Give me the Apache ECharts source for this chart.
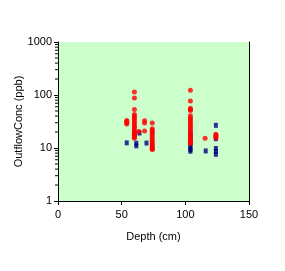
<!DOCTYPE html>
<html>
<head>
<meta charset="utf-8">
<script src="https://cdn.jsdelivr.net/npm/echarts@6/dist/echarts.min.js"></script>
<style>html,body{margin:0;padding:0;background:#fff;}#c{width:285px;height:271px;}</style>
</head>
<body>
<div id="c"></div>
<script>
// Red series (depth cm, concentration ppb)
const redDepth = [54,54,54,54, 60,60,60,60,60,60,60,60,60,60,60,60,60,60,60,60,60,60,60, 63.5, 68,68,68, 74,74,74,74,74,74,74,74,74,74,74,74,74,74,
  104,104,104,104,104,104,104,104,104,104,104,104,104,104,104,104,104,104,104,104,104, 115.5, 124,124,124,124];
const redConc  = [28.5,30,31.5,33, 114,88,53,43,40,37,34,31,28.5,26,24,22,20,18.5,17.2,16,15.2,19,18, 20.5, 32.5,29.5,21, 29.6,23,21.5,20,18.5,17,15.5,14.2,13,12,11,10.2,9.6,9.4,
  123,77,56,53,51,40.5,37,34,31,28.5,26,24,22,20,18.5,17,15.5,14.3,13.2,12.3,12.3, 15.2, 18.2,17.2,16.3,15.5];
// Blue series
const blueDepth = [54, 60,60, 64, 61.5,61.5, 69.5, 74,74, 104,104,104,104,104,104,104,104,104, 116, 124,124,124,124,124];
const blueConc  = [12.5, 19.2,17.6, 19.2, 12.3,11, 12.4, 11.2,10, 19.7,17.5,15.5,13.8,12.3,11,10,9.3,8.7, 8.8, 26.8,15,9.8,8.6,7.6];
// Axis
const xTicks = [0, 50, 100, 150];
const yMin = 1, yMax = 1000;
const minorVals = [];
[1,10,100].forEach(d => { for (let k = 2; k <= 9; k++) minorVals.push(d * k); });

const chart = echarts.init(document.getElementById('c'));
const font = 'Liberation Sans, Arial, sans-serif';
chart.setOption({
  backgroundColor: '#ffffff',
  animation: false,
  grid: { left: 58, top: 42, right: 36, bottom: 70, show: true, backgroundColor: '#ccffcc', borderWidth: 0, containLabel: false, outerBoundsMode: 'none' },
  xAxis: {
    type: 'value', min: xTicks[0], max: xTicks[xTicks.length-1], interval: 50,
    name: 'Depth (cm)', nameLocation: 'middle', nameGap: 30, nameMoveOverlap: false,
    nameTextStyle: { fontFamily: font, fontSize: 11, color: '#000' },
    axisLine: { show: true, onZero: false, lineStyle: { color: '#000', width: 1 } },
    axisTick: { show: true, length: 4, lineStyle: { color: '#000' } },
    axisLabel: { fontFamily: font, fontSize: 11, color: '#000', margin: 8 },
    splitLine: { show: false }
  },
  yAxis: [{
    type: 'log', logBase: 10, min: yMin, max: yMax,
    name: 'OutflowConc (ppb)', nameLocation: 'middle', nameGap: 34, nameMoveOverlap: false,
    nameTextStyle: { fontFamily: font, fontSize: 11, color: '#000' },
    axisLine: { show: true, onZero: false, lineStyle: { color: '#000', width: 1 } },
    axisTick: { show: true, length: 4, lineStyle: { color: '#000' } },
    axisLabel: { fontFamily: font, fontSize: 11, color: '#000', margin: 6, formatter: v => String(Math.round(v)) },
    splitLine: { show: false }
  }, {
    type: 'log', logBase: 10, min: yMin, max: yMax, position: 'right',
    axisLine: { show: true, onZero: false, lineStyle: { color: '#000', width: 1 } },
    axisTick: { show: false }, axisLabel: { show: false }, splitLine: { show: false }
  }],
  series: [
    {
      type: 'custom', silent: true, z: 1, clip: false,
      data: minorVals.map(v => [0, v]),
      renderItem: function (params, api) {
        const p = api.coord([api.value(0), api.value(1)]);
        return { type: 'line', shape: { x1: p[0] - 3, y1: p[1], x2: p[0], y2: p[1] }, style: { stroke: '#000', lineWidth: 1 } };
      }
    },
    {
      type: 'scatter', symbol: 'rect', symbolSize: [4, 5], z: 2,
      itemStyle: { color: '#000080' },
      data: blueDepth.map((d, i) => [d, blueConc[i]])
    },
    {
      type: 'scatter', symbol: 'circle', symbolSize: 5, z: 3,
      itemStyle: { color: '#ff0000' },
      data: redDepth.map((d, i) => [d, redConc[i]])
    }
  ]
});
</script>
</body>
</html>
